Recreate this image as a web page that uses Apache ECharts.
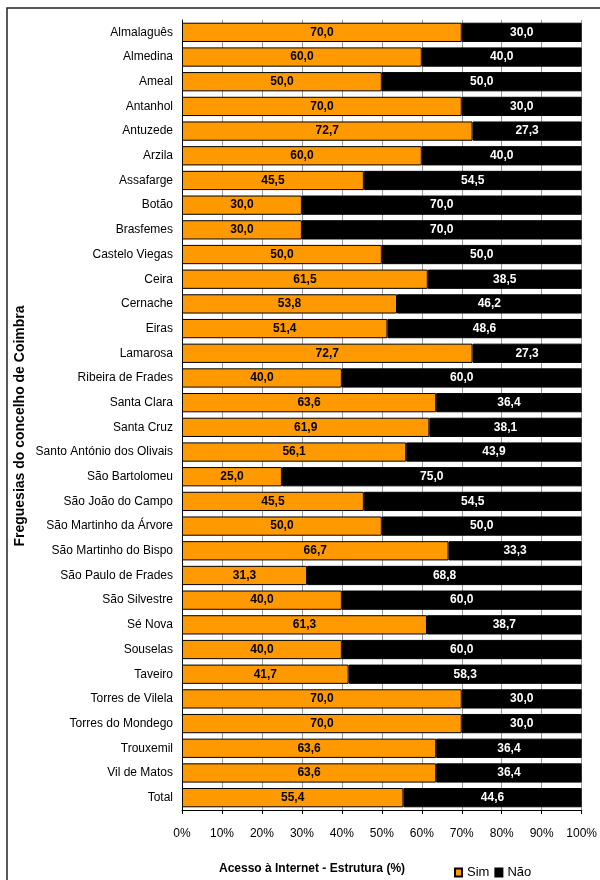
<!DOCTYPE html>
<html>
<head>
<meta charset="utf-8">
<script src="https://cdn.jsdelivr.net/npm/echarts@6/dist/echarts.min.js"></script>
<style>
  html, body { margin: 0; padding: 0; background: #fff; }
  #chart { width: 600px; height: 880px; }
</style>
</head>
<body>
<div id="chart"></div>
<script>
const categories = [
  'Almalaguês', 'Almedina', 'Ameal', 'Antanhol', 'Antuzede', 'Arzila', 'Assafarge',
  'Botão', 'Brasfemes', 'Castelo Viegas', 'Ceira', 'Cernache', 'Eiras', 'Lamarosa',
  'Ribeira de Frades', 'Santa Clara', 'Santa Cruz', 'Santo António dos Olivais',
  'São Bartolomeu', 'São João do Campo', 'São Martinho da Árvore', 'São Martinho do Bispo',
  'São Paulo de Frades', 'São Silvestre', 'Sé Nova', 'Souselas', 'Taveiro',
  'Torres de Vilela', 'Torres do Mondego', 'Trouxemil', 'Vil de Matos', 'Total'
];
const sim = [70.0, 60.0, 50.0, 70.0, 72.7, 60.0, 45.5, 30.0, 30.0, 50.0, 61.5, 53.8, 51.4, 72.7,
  40.0, 63.6, 61.9, 56.1, 25.0, 45.5, 50.0, 66.7, 31.3, 40.0, 61.3, 40.0, 41.7,
  70.0, 70.0, 63.6, 63.6, 55.4];
const nao = [30.0, 40.0, 50.0, 30.0, 27.3, 40.0, 54.5, 70.0, 70.0, 50.0, 38.5, 46.2, 48.6, 27.3,
  60.0, 36.4, 38.1, 43.9, 75.0, 54.5, 50.0, 33.3, 68.8, 60.0, 38.7, 60.0, 58.3,
  30.0, 30.0, 36.4, 36.4, 44.6];

const font = 'Liberation Sans, Arial, sans-serif';
const fmt = p => p.value.toFixed(1).replace('.', ',');

const chart = echarts.init(document.getElementById('chart'));
chart.setOption({
  animation: false,
  textStyle: { fontFamily: font },
  grid: { left: 182, right: 18, top: 20, bottom: 70 },
  title: {
    text: 'Acesso à Internet - Estrutura (%)',
    left: 214, top: 858,
    textStyle: { fontSize: 12, fontWeight: 'bold', color: '#000', fontFamily: font }
  },
  legend: {
    data: ['Sim', 'Não'],
    left: 449, top: 861,
    itemWidth: 7, itemHeight: 8, itemGap: 5,
    icon: 'rect',
    textStyle: { fontSize: 13, color: '#000' }
  },
  graphic: [
    {
      type: 'rect', silent: true,
      shape: { x: 7, y: 8, width: 800, height: 1000 },
      style: { fill: 'none', stroke: '#222', lineWidth: 1.5 }
    },
    {
      type: 'text', silent: true,
      x: 20, y: 426, rotation: Math.PI / 2,
      style: {
        text: 'Freguesias do concelho de Coimbra',
        fontSize: 14, fontWeight: 'bold', fill: '#000', fontFamily: font,
        align: 'center', verticalAlign: 'middle'
      }
    }
  ],
  xAxis: {
    type: 'value', min: 0, max: 100, interval: 10,
    axisLabel: { formatter: '{value}%', fontSize: 12, color: '#000', margin: 18 },
    axisLine: { show: true, lineStyle: { color: '#000' } },
    axisTick: { show: true, length: 4, lineStyle: { color: '#000' } },
    splitLine: { lineStyle: { color: '#999', width: 1 } }
  },
  yAxis: {
    type: 'category', data: categories, inverse: true,
    axisLabel: { fontSize: 12, color: '#000', margin: 9 },
    axisLine: { lineStyle: { color: '#000' } },
    axisTick: { length: 4, lineStyle: { color: '#000' } }
  },
  series: [
    {
      name: 'Sim', type: 'bar', stack: 'a', data: sim, barWidth: '78%',
      itemStyle: { color: '#ff9900', borderColor: '#000', borderWidth: 1 },
      label: { show: true, position: 'inside', formatter: fmt, fontSize: 12, fontWeight: 'bold', color: '#000' }
    },
    {
      name: 'Não', type: 'bar', stack: 'a', data: nao, barWidth: '78%',
      itemStyle: { color: '#000', borderColor: '#000', borderWidth: 1 },
      label: { show: true, position: 'inside', formatter: fmt, fontSize: 12, fontWeight: 'bold', color: '#fff' }
    }
  ]
});
</script>
</body>
</html>
